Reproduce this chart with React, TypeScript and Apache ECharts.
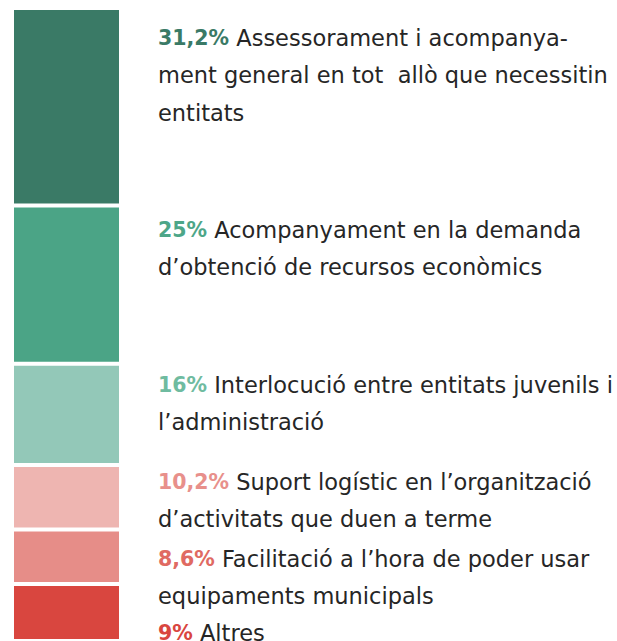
import React, { useEffect, useRef } from "react";
import * as echarts from "echarts";

const categories = ["Serveis"];
const percentLabels = ["31,2%", "25%", "16%", "10,2%", "8,6%", "9%"];
const values = [31.2, 25, 16, 10.2, 8.6, 9];
const descriptions = [
  "Assessorament i acompanya-\nment general en tot  allò que necessitin\nentitats",
  "Acompanyament en la demanda\nd’obtenció de recursos econòmics",
  "Interlocució entre entitats juvenils i\nl’administració",
  "Suport logístic en l’organització\nd’activitats que duen a terme",
  "Facilitació a l’hora de poder usar\nequipaments municipals",
  "Altres",
];
const barColors = ["#3A7A66", "#4BA486", "#93C8B8", "#EEB5B1", "#E68D88", "#D9463F"];
const labelColors = ["#3A7A66", "#4DA688", "#6FBBA0", "#E8908B", "#E06A62", "#D9463F"];
const labelTops = [19, 211, 366, 463, 540, 614];

export default function App() {
  const ref = useRef<HTMLDivElement>(null);
  useEffect(() => {
    if (!ref.current) return;
    const chart = echarts.init(ref.current, undefined, { renderer: "svg" });
    const FONT = "'DejaVu Sans', sans-serif";
    chart.setOption({
      animation: false,
      grid: { left: 12, right: 496, top: 8, bottom: 0 },
      xAxis: { type: "category", data: categories, show: false },
      yAxis: { type: "value", min: 0, max: 100, inverse: true, show: false },
      series: values.map((v, i) => ({
        type: "bar",
        stack: "total",
        barWidth: "100%",
        data: [v],
        itemStyle: { color: barColors[i], borderColor: "#fff", borderWidth: 2 },
        silent: true,
      })),
      graphic: percentLabels.map((p, i) => ({
        type: "text",
        left: 158,
        top: labelTops[i],
        style: {
          text: `{p|${p}} ${descriptions[i]}`,
          fontFamily: FONT,
          fontSize: 22.5,
          lineHeight: 37.5,
          fill: "#262626",
          rich: {
            p: {
              fontFamily: FONT,
              fontSize: 20.5,
              fontWeight: "bold",
              lineHeight: 37.5,
              fill: labelColors[i],
            },
          },
        },
      })),
    });
    return () => chart.dispose();
  }, []);
  return <div ref={ref} style={{ width: 617, height: 641, position: "absolute", left: 0, top: 0 }} />;
}
